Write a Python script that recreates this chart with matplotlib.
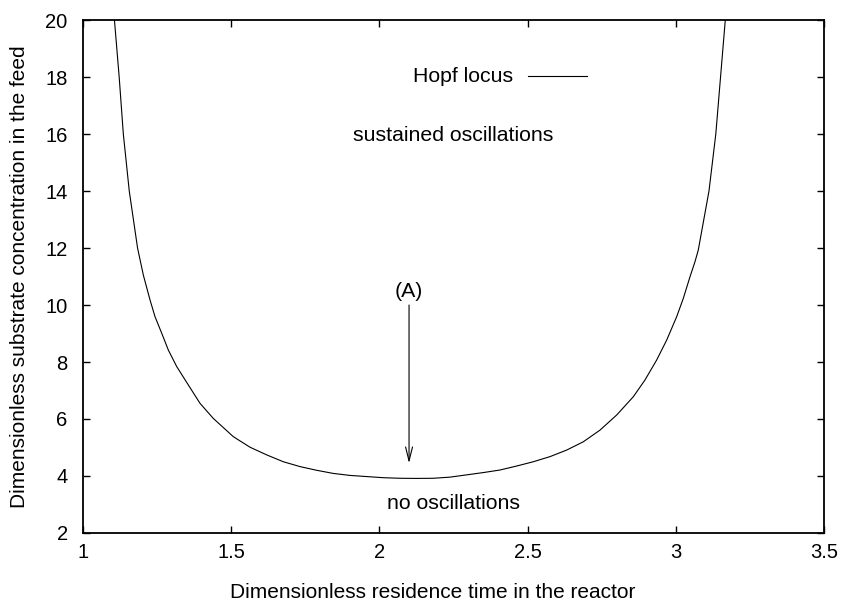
import matplotlib
matplotlib.use("Agg")
import matplotlib.pyplot as plt

# Hopf locus
hopf_x = [1.106, 1.122, 1.136, 1.156, 1.184, 1.2035, 1.226, 1.2429, 1.2655, 1.2878,
          1.3161, 1.3519, 1.3947, 1.4396, 1.5071, 1.5634, 1.6198, 1.6758, 1.7321,
          1.7884, 1.8445, 1.9008, 1.9572, 2.0132, 2.0695, 2.1257, 2.1819, 2.2382,
          2.2945, 2.3505, 2.4069, 2.4632, 2.5192, 2.5756, 2.6319, 2.6879, 2.7443,
          2.8006, 2.8566, 2.8961, 2.9355, 2.9693, 3.0030, 3.0253, 3.0479, 3.0648,
          3.0759, 3.112, 3.135, 3.151, 3.167]
hopf_y = [20.0, 18.0, 16.0, 14.0, 12.0, 11.05, 10.18, 9.59, 9.01, 8.42,
          7.84, 7.25, 6.55, 6.02, 5.38, 5.01, 4.74, 4.50, 4.33,
          4.20, 4.09, 4.02, 3.98, 3.94, 3.92, 3.915, 3.92, 3.96,
          4.04, 4.12, 4.21, 4.35, 4.50, 4.68, 4.91, 5.20, 5.61,
          6.14, 6.78, 7.37, 8.07, 8.77, 9.59, 10.23, 10.99, 11.52,
          11.93, 14.0, 16.0, 18.0, 20.0]

x_ticks = [1, 1.5, 2, 2.5, 3, 3.5]
x_tick_labels = ["1", "1.5", "2", "2.5", "3", "3.5"]
y_ticks = [2, 4, 6, 8, 10, 12, 14, 16, 18, 20]
y_tick_labels = ["2", "4", "6", "8", "10", "12", "14", "16", "18", "20"]

arrow_start = (2.10, 10.0)
arrow_end = (2.10, 4.45)
label_A = (2.10, 10.47)

plt.rcParams['font.family'] = ['Liberation Sans', 'DejaVu Sans']

fig = plt.figure(figsize=(8.42, 6.03), dpi=100)
ax = fig.add_axes([0.0986, 0.1161, 0.8800, 0.8507])

ax.plot(hopf_x, hopf_y, color='black', lw=0.8)

# key
ax.plot([2.50, 2.70], [18.03, 18.03], color='black', lw=0.8)
ax.text(2.45, 18.03, "Hopf locus", ha='right', va='center', fontsize=15.3)

ax.text(2.248, 15.96, "sustained oscillations", ha='center', va='center', fontsize=15.3)
ax.text(2.25, 3.05, "no oscillations", ha='center', va='center', fontsize=15.3)
ax.text(label_A[0], label_A[1], "(A)", ha='center', va='center', fontsize=15.3)
ax.annotate("", xy=arrow_end, xytext=arrow_start,
            arrowprops=dict(arrowstyle='->,head_width=0.25,head_length=1.0',
                            color='black', lw=0.8, shrinkA=0, shrinkB=0))

ax.set_xlim(1, 3.5)
ax.set_ylim(2, 20)
ax.set_xticks(x_ticks)
ax.set_xticklabels(x_tick_labels)
ax.set_yticks(y_ticks)
ax.set_yticklabels(y_tick_labels)
ax.tick_params(direction='in', length=5, width=1.0, top=True, right=True,
               labelsize=14.5)
ax.tick_params(axis='x', pad=7)
ax.tick_params(axis='y', pad=11)
for s in ax.spines.values():
    s.set_linewidth(1.3)

ax.set_xlabel("Dimensionless residence time in the reactor", fontsize=15)
ax.xaxis.set_label_coords(0.472, -0.097)
ax.set_ylabel("Dimensionless substrate concentration in the feed", fontsize=15)
ax.yaxis.set_label_coords(-0.073, 0.5)

fig.savefig("out.png", dpi=100)
